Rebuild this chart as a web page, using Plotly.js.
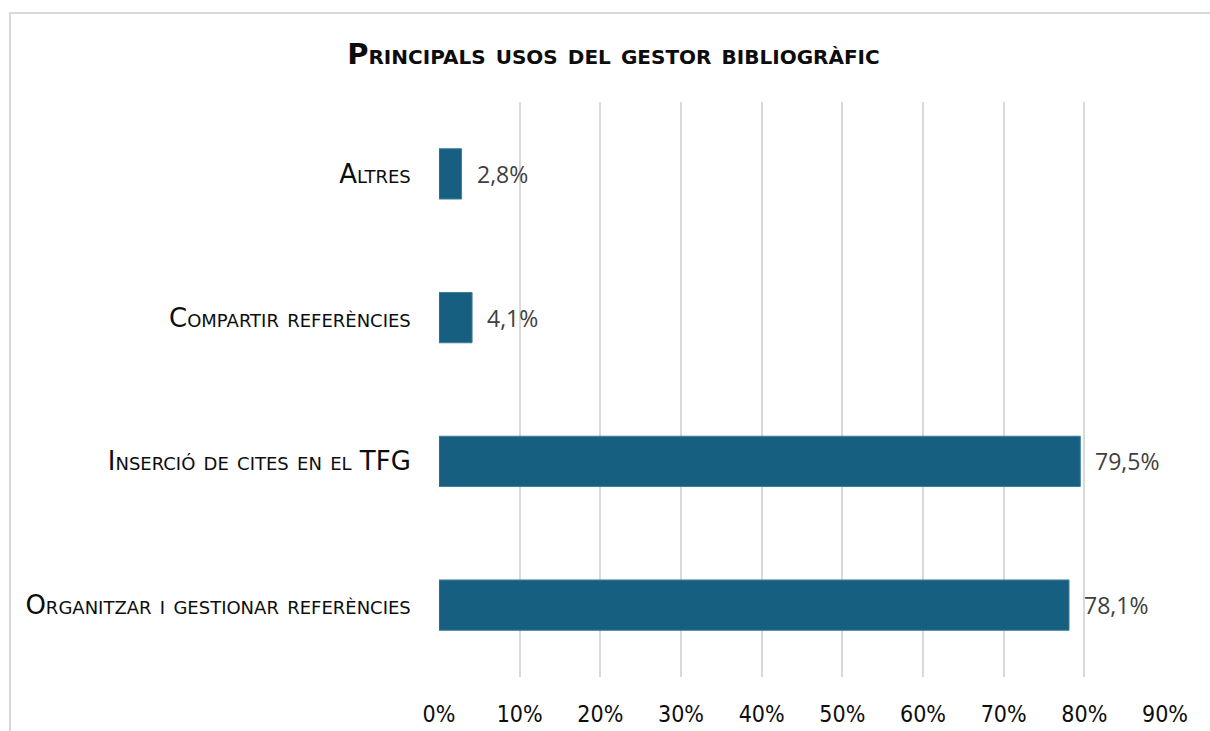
<!DOCTYPE html>
<html>
<head>
<meta charset="utf-8">
<script src="https://cdn.plot.ly/plotly-3.0.1.min.js"></script>
<style>
html,body{margin:0;padding:0;background:#fff;}
#wrap{position:relative;width:1210px;height:731px;overflow:hidden;}
#chart{position:absolute;left:0;top:0;width:1210px;height:731px;}
#frame{position:absolute;left:9px;top:12px;width:1300px;height:800px;border-left:2px solid #d9d9d9;border-top:2px solid #d9d9d9;pointer-events:none;}
</style>
</head>
<body>
<div id="wrap"><div id="chart"></div><div id="frame"></div></div>
<script>
// Data (top to bottom as shown)
var categories = ["Altres", "Compartir referències", "Inserció de cites en el TFG", "Organitzar i gestionar referències"];
var values = [2.8, 4.1, 79.5, 78.1];
var tickValues = [0, 10, 20, 30, 40, 50, 60, 70, 80, 90];
var chartTitle = "Principals usos del gestor bibliogràfic";

var trace = {
  type: 'bar',
  orientation: 'h',
  y: categories,
  x: values,
  marker: {color: '#175f80', line: {color: '#3d7f9c', width: 1}},
  width: 0.35,
  hoverinfo: 'x+y'
};

var annotations = categories.map(function(c, i){
  return {
    x: values[i], y: c, xref: 'x', yref: 'y',
    text: values[i].toFixed(1).replace('.', ',') + '%',
    showarrow: false, xanchor: 'left', xshift: 13,
    font: {family: 'Open Sans, Noto Sans, sans-serif', size: 23, color: '#404040'}
  };
});

var layout = {
  width: 1210, height: 731,
  paper_bgcolor: 'rgba(0,0,0,0)', plot_bgcolor: 'rgba(0,0,0,0)',
  margin: {l: 439, r: 45, t: 102, b: 54},
  separators: ', ',
  title: {
    text: chartTitle,
    x: 0.507, xanchor: 'center', y: 0.927, yanchor: 'middle',
    font: {family: 'DejaVu Sans, sans-serif', size: 29, color: '#0d0d0d', weight: 'bold', variant: 'small-caps'}
  },
  showlegend: false,
  xaxis: {
    range: [0, 90],
    tickvals: tickValues,
    ticktext: tickValues.map(function(v){ return v + '%'; }),
    showgrid: true, gridcolor: '#d9d9d9', gridwidth: 2,
    zeroline: false, showline: false,
    ticks: 'outside', ticklen: 16, tickcolor: 'rgba(0,0,0,0)',
    tickfont: {family: 'Liberation Sans Narrow, DejaVu Sans Condensed, sans-serif', size: 23, color: '#0d0d0d'},
    fixedrange: true
  },
  yaxis: {
    autorange: 'reversed',
    showgrid: false, zeroline: false, showline: false,
    ticks: 'outside', ticklen: 22, tickcolor: 'rgba(0,0,0,0)',
    tickfont: {family: 'DejaVu Sans, sans-serif', size: 26, color: '#0d0d0d', variant: 'small-caps'},
    fixedrange: true
  },
  annotations: annotations
};

Plotly.newPlot('chart', [trace], layout, {displayModeBar: false, staticPlot: true});
</script>
</body>
</html>
